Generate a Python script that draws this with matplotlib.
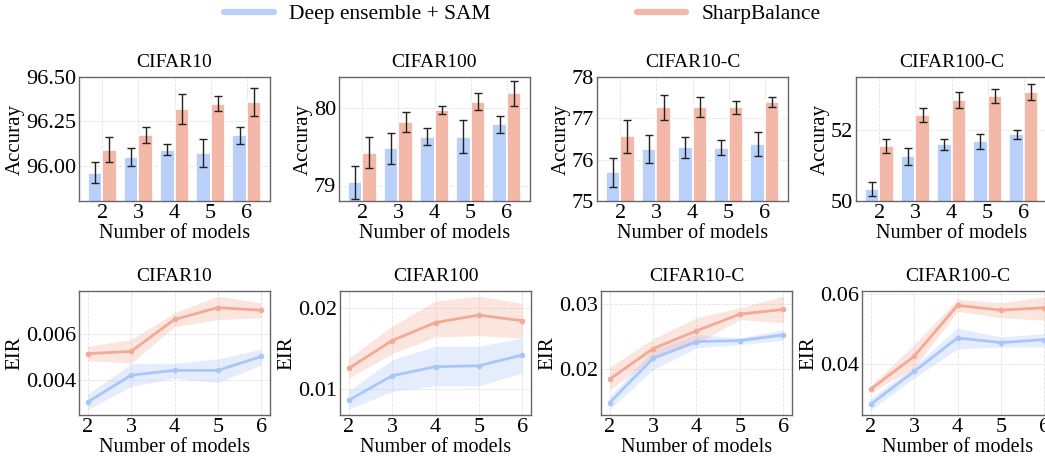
import numpy as np
import matplotlib
matplotlib.use("Agg")
import matplotlib.pyplot as plt
from matplotlib.ticker import MultipleLocator, FormatStrFormatter
from matplotlib.lines import Line2D

plt.rcParams['font.family'] = ['Liberation Serif', 'DejaVu Serif']

models = [2, 3, 4, 5, 6]
datasets = ['CIFAR10', 'CIFAR100', 'CIFAR10-C', 'CIFAR100-C']
labels = ['Deep ensemble + SAM', 'SharpBalance']

# accuracy (mean, err) per dataset
acc_de = [[95.96, 96.05, 96.09, 96.07, 96.17],
          [79.04, 79.48, 79.63, 79.63, 79.79],
          [75.69, 76.25, 76.30, 76.29, 76.39],
          [50.35, 51.26, 51.60, 51.68, 51.88]]
acc_de_err = [[0.06, 0.05, 0.03, 0.08, 0.05],
              [0.21, 0.20, 0.11, 0.21, 0.11],
              [0.36, 0.34, 0.25, 0.18, 0.29],
              [0.20, 0.23, 0.16, 0.20, 0.13]]
acc_sb = [[96.09, 96.17, 96.32, 96.35, 96.36],
          [79.42, 79.82, 79.97, 80.08, 80.19],
          [76.57, 77.27, 77.28, 77.27, 77.40],
          [51.55, 52.43, 52.85, 52.97, 53.07]]
acc_sb_err = [[0.07, 0.045, 0.083, 0.04, 0.08],
              [0.20, 0.13, 0.05, 0.11, 0.16],
              [0.40, 0.30, 0.24, 0.16, 0.12],
              [0.19, 0.19, 0.22, 0.20, 0.22]]

# EIR mean and band (low, high)
eir_de = [[0.00304, 0.00420, 0.00441, 0.00441, 0.00501],
          [0.00864, 0.01165, 0.01276, 0.01288, 0.01420],
          [0.01487, 0.02164, 0.02420, 0.02436, 0.02523],
          [0.02846, 0.03788, 0.04750, 0.04615, 0.04702]]
eir_de_lo = [[0.00272, 0.00371, 0.00407, 0.00388, 0.00465],
             [0.00753, 0.00971, 0.01041, 0.01041, 0.01198],
             [0.01385, 0.01990, 0.02323, 0.02374, 0.02441],
             [0.02683, 0.03596, 0.04433, 0.04490, 0.04490]]
eir_de_hi = [[0.00338, 0.00470, 0.00472, 0.00491, 0.00533],
             [0.00980, 0.01362, 0.01527, 0.01527, 0.01630],
             [0.01580, 0.02297, 0.02528, 0.02477, 0.02605],
             [0.03019, 0.03933, 0.05038, 0.04779, 0.04875]]
eir_sb = [[0.00513, 0.00523, 0.00661, 0.00712, 0.00701],
          [0.01255, 0.01597, 0.01819, 0.01910, 0.01840],
          [0.01846, 0.02313, 0.02585, 0.02841, 0.02913],
          [0.03279, 0.04221, 0.05683, 0.05548, 0.05615]]
eir_sb_lo = [[0.00483, 0.00472, 0.00629, 0.00661, 0.00668],
             [0.01136, 0.01436, 0.01642, 0.01658, 0.01630],
             [0.01682, 0.02169, 0.02390, 0.02759, 0.02708],
             [0.03183, 0.03885, 0.05519, 0.05327, 0.05260]]
eir_sb_hi = [[0.00545, 0.00574, 0.00690, 0.00762, 0.00733],
             [0.01383, 0.01774, 0.02082, 0.02144, 0.02053],
             [0.02031, 0.02462, 0.02785, 0.02938, 0.03118],
             [0.03375, 0.04558, 0.05856, 0.05760, 0.05933]]

acc_ylim = [(95.80, 96.50), (78.80, 80.40), (75.0, 78.0), (50.0, 53.5)]
acc_step = [0.25, 1, 1, 2]
eir_ylim = [(0.00248, 0.00784), (0.00683, 0.02206), (0.01297, 0.03195), (0.02538, 0.06096)]
eir_step = [0.002, 0.01, 0.01, 0.02]

c_blue = '#b8d0fa'
c_red = '#f4b8a8'
c_blue_l = '#a9c6fb'
c_red_l = '#f2a996'

W, H = 1045, 458
fig = plt.figure(figsize=(W / 100, H / 100), dpi=100)

top_left = [79, 339, 597, 856]
bot_left = [79, 340, 601, 862]
aw, ah = 191, 124

def style(ax):
    ax.grid(True, ls='--', lw=0.6, color='#e2e2e2')
    ax.set_axisbelow(True)
    for s in ax.spines.values():
        s.set_color('#666666')
        s.set_linewidth(1.0)
    ax.tick_params(length=0, pad=2, labelsize=16)
    ax.set_xticks(models)
    ax.set_xlabel('Number of models', fontsize=14.5, labelpad=1)

x = np.array(models)
for i in range(4):
    ax = fig.add_axes([top_left[i] / W, 1 - 201 / H, aw / W, ah / H])
    ax.bar(x - 0.2, acc_de[i], width=0.4, color=c_blue, edgecolor='white', lw=1.2,
           yerr=acc_de_err[i], capsize=3, error_kw=dict(ecolor='#222222', elinewidth=1, capthick=1))
    ax.bar(x + 0.2, acc_sb[i], width=0.4, color=c_red, edgecolor='white', lw=1.2,
           yerr=acc_sb_err[i], capsize=3, error_kw=dict(ecolor='#222222', elinewidth=1, capthick=1))
    ax.set_ylim(*acc_ylim[i])
    ax.yaxis.set_major_locator(MultipleLocator(acc_step[i]))
    if i == 0:
        ax.yaxis.set_major_formatter(FormatStrFormatter('%.2f'))
    else:
        ax.yaxis.set_major_formatter(FormatStrFormatter('%d'))
    style(ax)
    ax.set_ylabel('Accuray', fontsize=15, labelpad=1)
    ax.set_title(datasets[i], fontsize=14, pad=7)

for i in range(4):
    ax = fig.add_axes([bot_left[i] / W, 1 - 415 / H, aw / W, ah / H])
    ax.fill_between(models, eir_de_lo[i], eir_de_hi[i], color=c_blue_l, alpha=0.3, lw=0)
    ax.fill_between(models, eir_sb_lo[i], eir_sb_hi[i], color=c_red_l, alpha=0.3, lw=0)
    ax.plot(models, eir_de[i], color=c_blue_l, lw=2, marker='o', ms=3)
    ax.plot(models, eir_sb[i], color=c_red_l, lw=2, marker='o', ms=3)
    ax.set_ylim(*eir_ylim[i])
    ax.yaxis.set_major_locator(MultipleLocator(eir_step[i]))
    ax.yaxis.set_major_formatter(FormatStrFormatter('%.3f' if i == 0 else '%.2f'))
    style(ax)
    ax.set_ylabel('EIR', fontsize=15, labelpad=1)
    ax.set_title(datasets[i], fontsize=14, pad=7)

handles = [Line2D([], [], color=c_blue, lw=4.5, solid_capstyle='round'),
           Line2D([], [], color=c_red, lw=4.5, solid_capstyle='round')]
fig.legend(handles, labels, loc='center', bbox_to_anchor=(0.5, 1 - 14 / H), ncol=2,
           frameon=False, fontsize=15.5, handlelength=2.3, handletextpad=0.7, columnspacing=6.8)

fig.savefig('out.png', dpi=100)
